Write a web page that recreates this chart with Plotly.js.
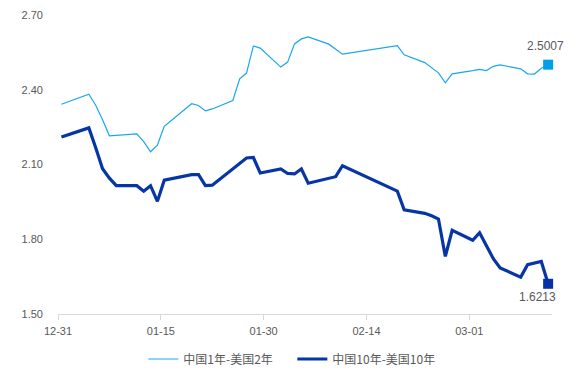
<!DOCTYPE html>
<html>
<head>
<meta charset="utf-8">
<script src="https://cdn.plot.ly/plotly-3.0.1.min.js"></script>
<style>html,body{margin:0;padding:0;background:#fff;}#chart{width:585px;height:372px;}</style>
</head>
<body>
<div id="chart"></div>
<script>
var dates = [
  '2020-12-31','2021-01-04','2021-01-05','2021-01-06','2021-01-07','2021-01-08',
  '2021-01-11','2021-01-12','2021-01-13','2021-01-14','2021-01-15',
  '2021-01-19','2021-01-20','2021-01-21','2021-01-22',
  '2021-01-25','2021-01-26','2021-01-27','2021-01-28','2021-01-29',
  '2021-02-01','2021-02-02','2021-02-03','2021-02-04','2021-02-05',
  '2021-02-08','2021-02-09','2021-02-10',
  '2021-02-18','2021-02-19',
  '2021-02-22','2021-02-23','2021-02-24','2021-02-25','2021-02-26',
  '2021-03-01','2021-03-02','2021-03-03','2021-03-04','2021-03-05',
  '2021-03-08','2021-03-09','2021-03-10','2021-03-11','2021-03-12'
];
var spread1y2y = [
  2.342,2.382,2.338,2.280,2.215,2.217,
  2.223,2.192,2.151,2.178,2.253,
  2.344,2.337,2.315,2.323,
  2.357,2.444,2.467,2.576,2.567,
  2.491,2.511,2.584,2.604,2.612,
  2.583,2.564,2.543,
  2.577,2.540,
  2.509,2.490,2.468,2.428,2.464,
  2.477,2.482,2.477,2.494,2.500,
  2.484,2.464,2.463,2.486,2.5007
];
var spread10y10y = [
  2.210,2.247,2.167,2.083,2.045,2.015,
  2.015,1.993,2.015,1.952,2.037,
  2.059,2.059,2.015,2.017,
  2.084,2.107,2.126,2.128,2.066,
  2.082,2.064,2.062,2.082,2.025,
  2.045,2.051,2.095,
  1.993,1.918,
  1.904,1.894,1.881,1.731,1.836,
  1.796,1.826,1.774,1.722,1.685,
  1.648,1.698,1.706,1.711,1.6213
];
var seriesNames = ['中国1年-美国2年','中国10年-美国10年'];
var tickDates = ['2020-12-30 12:00','2021-01-14 12:00','2021-01-29 12:00','2021-02-13 12:00','2021-02-28 12:00'];
var tickLabels = ['12-31','01-15','01-30','02-14','03-01'];
var yTicks = [1.5,1.8,2.1,2.4,2.7];

var cLight = '#1AA7EC', cDark = '#0636A6';
var mLight = '#00A0E9', mDark = '#0432A8';
var n = dates.length - 1;

var traces = [
  {x: dates, y: spread1y2y, name: seriesNames[0], mode: 'lines', type: 'scatter',
   line: {color: cLight, width: 1.2}},
  {x: dates, y: spread10y10y, name: seriesNames[1], mode: 'lines', type: 'scatter',
   line: {color: cDark, width: 3.2}},
  {x: [dates[n]], y: [spread1y2y[n]], mode: 'markers', type: 'scatter', showlegend: false,
   marker: {symbol: 'square', size: 10, color: mLight}, cliponaxis: false, hoverinfo: 'skip'},
  {x: [dates[n]], y: [spread10y10y[n]], mode: 'markers', type: 'scatter', showlegend: false,
   marker: {symbol: 'square', size: 10, color: mDark}, cliponaxis: false, hoverinfo: 'skip'}
];

var layout = {
  width: 585, height: 372,
  margin: {l: 58, r: 33, t: 15, b: 58},
  paper_bgcolor: '#fff', plot_bgcolor: '#fff',
  font: {family: 'Liberation Sans, Arial, sans-serif', size: 11, color: '#595959'},
  showlegend: true,
  legend: {orientation: 'h', xref: 'container', yref: 'container', x: 0.245, y: 0.035,
    xanchor: 'left', yanchor: 'middle',
    font: {family: 'Noto Sans CJK SC, sans-serif', size: 12, color: '#595959'},
    itemwidth: 30, tracegroupgap: 0, entrywidth: 104, entrywidthmode: 'pixels'},
  xaxis: {type: 'date', range: ['2020-12-30 12:00', '2021-03-12 13:30'],
    tickmode: 'array', tickvals: tickDates, ticktext: tickLabels,
    showgrid: false, zeroline: false, showline: true, linecolor: '#d9d9d9', linewidth: 1,
    ticks: 'outside', ticklen: 5, tickcolor: '#d9d9d9', ticklabelstandoff: 2,
    tickfont: {size: 11, color: '#595959'}},
  yaxis: {range: [1.5, 2.7], tickmode: 'array', tickvals: yTicks,
    ticktext: yTicks.map(function(v){return v.toFixed(2);}),
    showgrid: false, zeroline: false, showline: false, ticks: '',
    ticklabelstandoff: 14, tickfont: {size: 11, color: '#595959'}},
  annotations: [
    {x: dates[n], y: spread1y2y[n], text: spread1y2y[n].toFixed(4), showarrow: false,
     xshift: -3, yshift: 19, font: {size: 12, color: '#595959'}},
    {x: dates[n], y: spread10y10y[n], text: spread10y10y[n].toFixed(4), showarrow: false,
     xshift: -11, yshift: -13, font: {size: 12, color: '#595959'}}
  ]
};

Plotly.newPlot('chart', traces, layout, {displayModeBar: false, staticPlot: true});
</script>
</body>
</html>
